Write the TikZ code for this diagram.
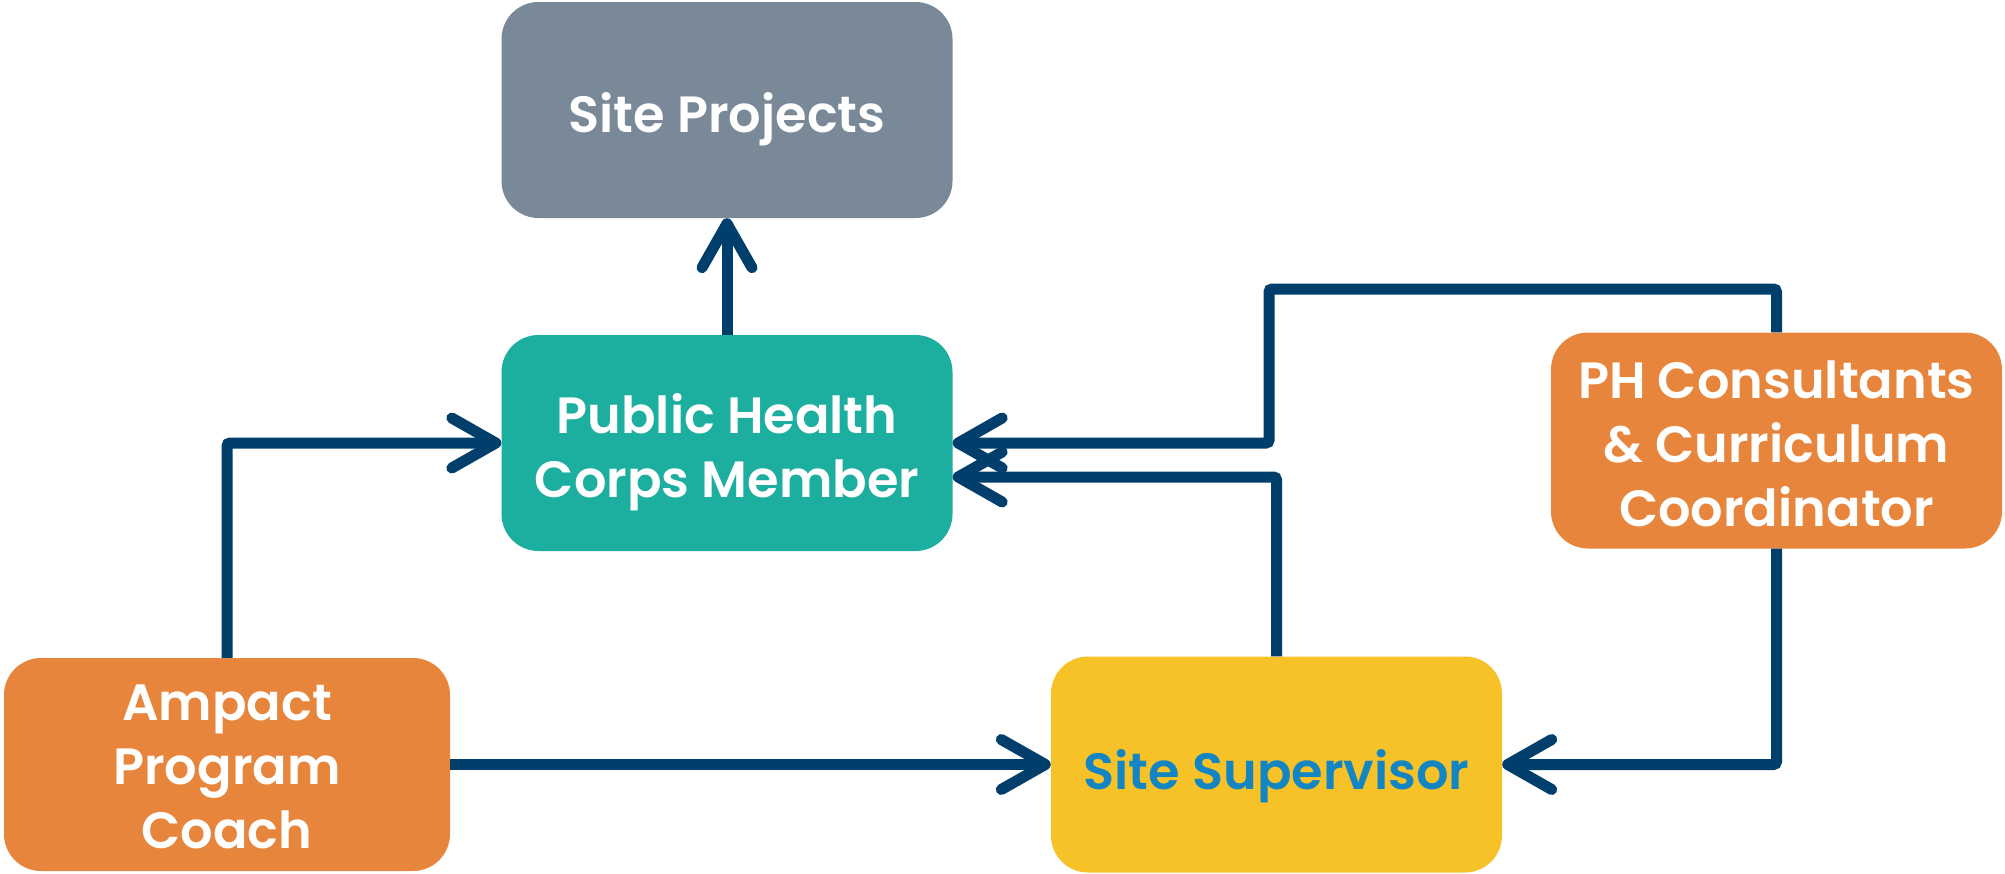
\documentclass[tikz,border=0pt]{standalone}
\usepackage{fontspec}
\setmainfont{Poppins}[BoldFont={Poppins SemiBold}]
\usetikzlibrary{arrows.meta}
\definecolor{spgray}{HTML}{7A8998}
\definecolor{teal1}{HTML}{1CAE9E}
\definecolor{orange1}{HTML}{E8853C}
\definecolor{yellow1}{HTML}{F6C228}
\definecolor{navy1}{HTML}{003F6B}
\definecolor{blue1}{HTML}{1385C3}
\newcommand\boxtext[2][10pt]{\raisebox{-#1}[\height][\depth]{\begin{tabular}{@{}c@{}}#2\end{tabular}}}
\tikzset{
  box/.style={rectangle, rounded corners=37pt, minimum width=451pt, minimum height=216pt,
    inner sep=0pt, align=center, text=white, font=\fontsize{51}{64}\selectfont\bfseries},
  conn/.style={draw=navy1, line width=11pt, rounded corners=3pt,
    -{Straight Barb[length=44pt, width=50pt, round]}},
}
\begin{document}
\begin{tikzpicture}[x=1pt, y=-1pt]
\useasboundingbox (0,0) rectangle (2005,873);
\node[box, fill=spgray] (sp) at (727,110) {\boxtext{Site Projects}};
\node[box, fill=teal1] (phc) at (727,443) {\boxtext{Public Health\\Corps Member}};
\node[box, fill=orange1, minimum width=446pt, minimum height=213pt] (apc) at (227,764.5) {\boxtext[7pt]{Ampact\\Program\\Coach}};
\node[box, fill=yellow1, text=blue1] (ss) at (1276.5,764.5) {\boxtext[12pt]{Site Supervisor}};
\node[box, fill=orange1] (phcc) at (1776.5,440.5) {\boxtext[9pt]{PH Consultants\\\& Curriculum\\Coordinator}};
\coordinate (j1) at (1269,289);
\draw[conn] (phc.north) -- (sp.south);
\draw[conn] (apc.north) |- (phc.west);
\draw[conn] (phcc.north) |- (j1) |- (phc.east);
\draw[conn] (ss.north) |- ([yshift=-34pt]phc.east);
\draw[conn] (phcc.south) |- (ss.east);
\draw[conn] (apc.east) -- (ss.west);
\end{tikzpicture}
\end{document}
